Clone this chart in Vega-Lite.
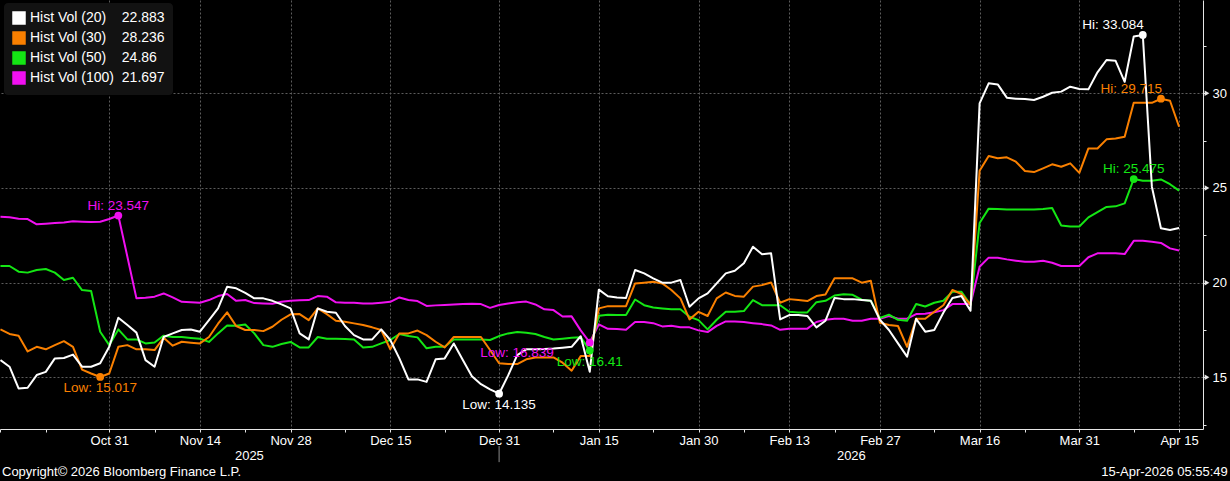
{
  "$schema": "https://vega.github.io/schema/vega-lite/v6.json",
  "width": 1203,
  "height": 429,
  "autosize": {"type": "none"},
  "padding": {"left": 0, "top": 0, "right": 27, "bottom": 52},
  "background": "#000000",
  "config": {
    "font": "Liberation Sans",
    "view": {"stroke": null},
    "axis": {
      "domainColor": "#e6e6e6",
      "tickColor": "#e6e6e6",
      "labelColor": "#ffffff",
      "labelFont": "Liberation Sans",
      "labelFontSize": 13,
      "gridColor": "#5c5c5c",
      "gridDash": [2, 2],
      "gridWidth": 1,
      "title": null
    },
    "legend": {
      "labelFont": "Liberation Sans",
      "labelFontSize": 14,
      "labelColor": "#ffffff",
      "fillColor": "#121212",
      "cornerRadius": 4,
      "padding": 8,
      "rowPadding": 2,
      "symbolType": "square",
      "symbolSize": 144,
      "labelOffset": 4,
      "labelLimit": 400
    }
  },
  "datasets": {
    "vol": [
      {"i":0,"v20":15.91,"v30":17.53,"v50":20.88,"v100":23.48},
      {"i":1,"v20":15.56,"v30":17.29,"v50":20.88,"v100":23.46},
      {"i":2,"v20":14.41,"v30":17.2,"v50":20.58,"v100":23.38},
      {"i":3,"v20":14.45,"v30":16.37,"v50":20.53,"v100":23.36},
      {"i":4,"v20":15.12,"v30":16.61,"v50":20.67,"v100":23.08},
      {"i":5,"v20":15.29,"v30":16.48,"v50":20.72,"v100":23.11},
      {"i":6,"v20":16.0,"v30":16.7,"v50":20.53,"v100":23.15},
      {"i":7,"v20":16.02,"v30":16.91,"v50":20.14,"v100":23.18},
      {"i":8,"v20":16.2,"v30":16.61,"v50":20.26,"v100":23.24},
      {"i":9,"v20":15.56,"v30":15.41,"v50":19.61,"v100":23.22},
      {"i":10,"v20":15.56,"v30":15.2,"v50":19.56,"v100":23.2},
      {"i":11,"v20":15.74,"v30":15.017,"v50":17.41,"v100":23.22},
      {"i":12,"v20":16.61,"v30":15.2,"v50":16.7,"v100":23.36},
      {"i":13,"v20":18.15,"v30":16.61,"v50":17.53,"v100":23.547},
      {"i":14,"v20":17.76,"v30":16.7,"v50":17.0,"v100":21.37},
      {"i":15,"v20":17.36,"v30":16.48,"v50":17.0,"v100":19.17},
      {"i":16,"v20":15.91,"v30":16.48,"v50":16.79,"v100":19.2},
      {"i":17,"v20":15.56,"v30":16.44,"v50":16.84,"v100":19.26},
      {"i":18,"v20":17.13,"v30":17.09,"v50":17.2,"v100":19.43},
      {"i":19,"v20":17.32,"v30":16.67,"v50":17.13,"v100":19.22},
      {"i":20,"v20":17.5,"v30":16.88,"v50":17.13,"v100":18.99},
      {"i":21,"v20":17.53,"v30":16.83,"v50":17.08,"v100":18.97},
      {"i":22,"v20":17.41,"v30":16.79,"v50":17.04,"v100":18.94},
      {"i":23,"v20":18.02,"v30":17.13,"v50":16.87,"v100":19.08},
      {"i":24,"v20":18.64,"v30":17.83,"v50":17.32,"v100":19.29},
      {"i":25,"v20":19.78,"v30":18.43,"v50":17.74,"v100":19.4},
      {"i":26,"v20":19.7,"v30":17.71,"v50":17.72,"v100":19.04},
      {"i":27,"v20":19.46,"v30":17.5,"v50":17.79,"v100":19.08},
      {"i":28,"v20":19.17,"v30":17.5,"v50":17.32,"v100":18.92},
      {"i":29,"v20":19.17,"v30":17.44,"v50":16.7,"v100":18.9},
      {"i":30,"v20":19.04,"v30":17.67,"v50":16.61,"v100":18.89},
      {"i":31,"v20":18.85,"v30":18.04,"v50":16.76,"v100":18.99},
      {"i":32,"v20":18.64,"v30":18.33,"v50":16.87,"v100":19.05},
      {"i":33,"v20":17.32,"v30":18.34,"v50":16.58,"v100":19.07},
      {"i":34,"v20":17.0,"v30":18.02,"v50":16.58,"v100":19.08},
      {"i":35,"v20":18.64,"v30":18.64,"v50":17.13,"v100":19.29},
      {"i":36,"v20":18.46,"v30":18.34,"v50":17.04,"v100":19.26},
      {"i":37,"v20":18.41,"v30":17.99,"v50":17.04,"v100":18.96},
      {"i":38,"v20":17.71,"v30":17.94,"v50":17.02,"v100":18.94},
      {"i":39,"v20":17.23,"v30":17.85,"v50":17.0,"v100":18.94},
      {"i":40,"v20":17.0,"v30":17.76,"v50":16.58,"v100":18.9},
      {"i":41,"v20":17.0,"v30":17.64,"v50":16.61,"v100":18.9},
      {"i":42,"v20":17.53,"v30":17.5,"v50":16.79,"v100":18.94},
      {"i":43,"v20":16.97,"v30":16.48,"v50":16.97,"v100":18.99},
      {"i":44,"v20":16.0,"v30":17.32,"v50":17.29,"v100":19.22},
      {"i":45,"v20":14.89,"v30":17.32,"v50":17.18,"v100":19.08},
      {"i":46,"v20":14.89,"v30":17.47,"v50":17.11,"v100":19.03},
      {"i":47,"v20":14.76,"v30":17.23,"v50":16.53,"v100":18.77},
      {"i":48,"v20":15.95,"v30":16.88,"v50":16.61,"v100":18.8},
      {"i":49,"v20":16.0,"v30":16.58,"v50":16.61,"v100":18.82},
      {"i":50,"v20":16.79,"v30":17.13,"v50":17.0,"v100":18.85},
      {"i":51,"v20":15.91,"v30":17.13,"v50":17.0,"v100":18.87},
      {"i":52,"v20":15.06,"v30":17.13,"v50":17.0,"v100":18.89},
      {"i":53,"v20":14.64,"v30":17.13,"v50":17.0,"v100":18.87},
      {"i":54,"v20":14.36,"v30":16.44,"v50":16.97,"v100":18.67},
      {"i":55,"v20":14.135,"v30":15.74,"v50":17.18,"v100":18.82},
      {"i":56,"v20":15.1,"v30":15.7,"v50":17.32,"v100":18.9},
      {"i":57,"v20":16.17,"v30":15.7,"v50":17.39,"v100":18.97},
      {"i":58,"v20":16.48,"v30":15.95,"v50":17.36,"v100":19.0},
      {"i":59,"v20":16.48,"v30":16.05,"v50":17.29,"v100":18.85},
      {"i":60,"v20":16.5,"v30":16.05,"v50":17.13,"v100":18.59},
      {"i":61,"v20":16.52,"v30":16.05,"v50":17.0,"v100":18.55},
      {"i":62,"v20":16.56,"v30":15.77,"v50":17.04,"v100":18.21},
      {"i":63,"v20":16.61,"v30":15.35,"v50":17.09,"v100":18.22},
      {"i":64,"v20":17.17,"v30":16.12,"v50":17.12,"v100":17.48},
      {"i":65,"v20":15.29,"v30":16.12,"v50":16.41,"v100":16.839},
      {"i":66,"v20":19.63,"v30":18.64,"v50":18.25,"v100":17.8},
      {"i":67,"v20":19.28,"v30":18.76,"v50":18.31,"v100":17.56},
      {"i":68,"v20":19.22,"v30":18.76,"v50":18.29,"v100":17.55},
      {"i":69,"v20":19.19,"v30":18.76,"v50":18.29,"v100":17.51},
      {"i":70,"v20":20.67,"v30":19.96,"v50":19.11,"v100":17.92},
      {"i":71,"v20":20.49,"v30":20.0,"v50":18.81,"v100":17.92},
      {"i":72,"v20":20.23,"v30":20.05,"v50":18.69,"v100":17.86},
      {"i":73,"v20":20.0,"v30":19.96,"v50":18.64,"v100":17.69},
      {"i":74,"v20":20.0,"v30":19.61,"v50":18.6,"v100":17.72},
      {"i":75,"v20":20.14,"v30":19.17,"v50":18.6,"v100":17.64},
      {"i":76,"v20":18.73,"v30":18.06,"v50":18.2,"v100":17.64},
      {"i":77,"v20":19.17,"v30":18.46,"v50":18.02,"v100":17.48},
      {"i":78,"v20":19.43,"v30":18.24,"v50":17.53,"v100":17.39},
      {"i":79,"v20":19.96,"v30":19.17,"v50":18.04,"v100":17.72},
      {"i":80,"v20":20.49,"v30":19.48,"v50":18.46,"v100":17.95},
      {"i":81,"v20":20.63,"v30":19.3,"v50":18.46,"v100":17.95},
      {"i":82,"v20":21.02,"v30":19.26,"v50":18.5,"v100":17.92},
      {"i":83,"v20":21.9,"v30":19.79,"v50":19.08,"v100":17.86},
      {"i":84,"v20":21.5,"v30":19.87,"v50":18.81,"v100":17.81},
      {"i":85,"v20":21.55,"v30":20.01,"v50":18.81,"v100":17.74},
      {"i":86,"v20":18.06,"v30":18.94,"v50":18.81,"v100":17.51},
      {"i":87,"v20":18.29,"v30":19.13,"v50":18.46,"v100":17.57},
      {"i":88,"v20":18.29,"v30":19.08,"v50":18.43,"v100":17.57},
      {"i":89,"v20":18.24,"v30":19.03,"v50":18.43,"v100":17.57},
      {"i":90,"v20":17.64,"v30":19.29,"v50":18.97,"v100":17.92},
      {"i":91,"v20":17.99,"v30":19.38,"v50":19.04,"v100":18.04},
      {"i":92,"v20":19.19,"v30":20.23,"v50":19.32,"v100":18.09},
      {"i":93,"v20":19.13,"v30":20.23,"v50":19.39,"v100":18.09},
      {"i":94,"v20":19.13,"v30":20.23,"v50":19.36,"v100":17.99},
      {"i":95,"v20":19.08,"v30":20.0,"v50":19.1,"v100":17.99},
      {"i":96,"v20":19.04,"v30":20.1,"v50":19.04,"v100":18.09},
      {"i":97,"v20":18.04,"v30":17.88,"v50":18.13,"v100":18.09},
      {"i":98,"v20":17.5,"v30":17.76,"v50":18.31,"v100":18.24},
      {"i":99,"v20":16.79,"v30":17.71,"v50":18.04,"v100":18.09},
      {"i":100,"v20":16.09,"v30":16.61,"v50":17.99,"v100":18.1},
      {"i":101,"v20":18.09,"v30":18.09,"v50":18.87,"v100":18.34},
      {"i":102,"v20":17.41,"v30":18.09,"v50":18.74,"v100":18.36},
      {"i":103,"v20":17.5,"v30":18.46,"v50":18.94,"v100":18.44},
      {"i":104,"v20":18.41,"v30":18.81,"v50":19.04,"v100":18.55},
      {"i":105,"v20":19.19,"v30":19.61,"v50":19.52,"v100":18.87},
      {"i":106,"v20":19.29,"v30":19.4,"v50":19.52,"v100":18.87},
      {"i":107,"v20":18.52,"v30":18.83,"v50":18.83,"v100":18.87},
      {"i":108,"v20":29.47,"v30":25.91,"v50":23.15,"v100":20.84},
      {"i":109,"v20":30.53,"v30":26.69,"v50":23.91,"v100":21.32},
      {"i":110,"v20":30.47,"v30":26.57,"v50":23.89,"v100":21.32},
      {"i":111,"v20":29.77,"v30":26.62,"v50":23.86,"v100":21.23},
      {"i":112,"v20":29.72,"v30":26.39,"v50":23.86,"v100":21.16},
      {"i":113,"v20":29.7,"v30":25.9,"v50":23.86,"v100":21.1},
      {"i":114,"v20":29.65,"v30":25.84,"v50":23.86,"v100":21.1},
      {"i":115,"v20":29.82,"v30":26.04,"v50":23.89,"v100":21.16},
      {"i":116,"v20":30.03,"v30":26.25,"v50":23.94,"v100":21.05},
      {"i":117,"v20":30.09,"v30":26.12,"v50":23.02,"v100":20.88},
      {"i":118,"v20":30.35,"v30":26.3,"v50":22.97,"v100":20.88},
      {"i":119,"v20":30.23,"v30":25.8,"v50":22.97,"v100":20.88},
      {"i":120,"v20":30.21,"v30":27.09,"v50":23.45,"v100":21.34},
      {"i":121,"v20":31.11,"v30":27.09,"v50":23.73,"v100":21.55},
      {"i":122,"v20":31.76,"v30":27.57,"v50":24.0,"v100":21.55},
      {"i":123,"v20":31.72,"v30":27.62,"v50":24.03,"v100":21.55},
      {"i":124,"v20":30.61,"v30":27.71,"v50":24.19,"v100":21.51},
      {"i":125,"v20":33.0,"v30":29.5,"v50":25.475,"v100":22.21},
      {"i":126,"v20":33.084,"v30":29.5,"v50":25.38,"v100":22.21},
      {"i":127,"v20":25.07,"v30":29.5,"v50":25.38,"v100":22.16},
      {"i":128,"v20":22.87,"v30":29.715,"v50":25.45,"v100":22.1},
      {"i":129,"v20":22.78,"v30":29.61,"v50":25.2,"v100":21.81},
      {"i":130,"v20":22.883,"v30":28.236,"v50":24.86,"v100":21.697}
    ],
    "hl": [
      {"key":"v20","i":126,"v":33.084,"label":"Hi: 33.084"},
      {"key":"v30","i":128,"v":29.715,"label":"Hi: 29.715"},
      {"key":"v50","i":125,"v":25.475,"label":"Hi: 25.475"},
      {"key":"v100","i":13,"v":23.547,"label":"Hi: 23.547"},
      {"key":"v20","i":55,"v":14.135,"label":"Low: 14.135"},
      {"key":"v30","i":11,"v":15.017,"label":"Low: 15.017"},
      {"key":"v50","i":65,"v":16.41,"label":"Low: 16.41"},
      {"key":"v100","i":65,"v":16.839,"label":"Low: 16.839"}
    ]
  },
  "layer": [
    {
      "data": {"name": "vol"},
      "transform": [{"fold": ["v100", "v50", "v30", "v20"], "as": ["key", "value"]}],
      "mark": {"type": "line", "strokeWidth": 2, "strokeJoin": "round"},
      "encoding": {
        "x": {
          "field": "i", "type": "quantitative",
          "scale": {"domain": [-0.05, 132.64], "nice": false, "zero": false},
          "axis": {
            "title": null,
            "values": [0, 5, 12, 17, 22, 27, 27.4, 32, 38, 43, 49, 55, 61, 66, 72, 77, 82, 87, 92, 93.8, 97, 103, 108, 113, 119, 125, 130],
            "labelExpr": "indexof([12,22,32,43,55,66,77,87,97,108,119,130], datum.value) >= 0 ? ['Oct 31','Nov 14','Nov 28','Dec 15','Dec 31','Jan 15','Jan 30','Feb 13','Feb 27','Mar 16','Mar 31','Apr 15'][indexof([12,22,32,43,55,66,77,87,97,108,119,130], datum.value)] : (datum.value == 27.4 ? ['', '2025'] : (datum.value == 93.8 ? ['', '2026'] : ''))",
            "labelOverlap": false,
            "labelFlush": false,
            "labelBaseline": "top",
            "labelLineHeight": 15,
            "labelPadding": 2,
            "tickSize": 3,
            "grid": true,
            "gridOpacity": {"condition": {"test": "indexof([12,22,32,43,55,66,77,87,97,108,119,130], datum.value) >= 0", "value": 1}, "value": 0},
            "tickOpacity": {"condition": {"test": "datum.value == 27.4 || datum.value == 93.8", "value": 0}, "value": 1}
          }
        },
        "y": {
          "field": "value", "type": "quantitative",
          "scale": {"domain": [12.27, 34.93], "nice": false, "zero": false},
          "axis": {
            "title": null,
            "orient": "right",
            "values": [12.5, 15, 17.5, 20, 22.5, 25, 27.5, 30, 32.5],
            "labelExpr": "datum.value % 5 == 0 ? datum.label : ''",
            "labelOverlap": false,
            "tickSize": 3,
            "labelPadding": 6,
            "grid": true,
            "gridOpacity": {"condition": {"test": "datum.value % 5 == 0", "value": 1}, "value": 0}
          }
        },
        "color": {
          "field": "key", "type": "nominal",
          "scale": {"domain": ["v20", "v30", "v50", "v100"], "range": ["#ffffff", "#fa8000", "#14e614", "#f010f0"]},
          "legend": {
            "title": null,
            "orient": "none",
            "legendX": 4,
            "legendY": 3,
            "labelExpr": "datum.label == 'v20' ? 'Hist Vol (20)\u00a0\u00a0\u00a0\u00a022.883' : (datum.label == 'v30' ? 'Hist Vol (30)\u00a0\u00a0\u00a0\u00a028.236' : (datum.label == 'v50' ? 'Hist Vol (50)\u00a0\u00a0\u00a0\u00a024.86' : 'Hist Vol (100)\u00a0\u00a021.697'))",
            "encode": {
              "symbols": {
                "update": {
                  "fill": {"scale": "color", "field": "value"},
                  "stroke": {"value": "transparent"},
                  "shape": {"value": "square"},
                  "size": {"value": 144},
                  "opacity": {"value": 1}
                }
              }
            }
          }
        }
      }
    },
    {
      "data": {"name": "hl"},
      "mark": {"type": "point", "filled": true, "size": 60, "opacity": 1},
      "encoding": {
        "x": {"field": "i", "type": "quantitative"},
        "y": {"field": "v", "type": "quantitative"},
        "color": {"field": "key", "type": "nominal", "legend": null}
      }
    },
    {
      "data": {"name": "hl"},
      "transform": [{"filter": "datum.label == 'Hi: 25.475' || datum.label == 'Hi: 23.547'"}],
      "mark": {"type": "text", "align": "center", "baseline": "middle", "dy": -10, "fontSize": 13.5, "font": "Liberation Sans"},
      "encoding": {
        "x": {"field": "i", "type": "quantitative"},
        "y": {"field": "v", "type": "quantitative"},
        "text": {"field": "label"},
        "color": {"field": "key", "type": "nominal", "legend": null}
      }
    },
    {
      "data": {"name": "hl"},
      "transform": [{"filter": "datum.label == 'Hi: 33.084' || datum.label == 'Hi: 29.715'"}],
      "mark": {"type": "text", "align": "right", "baseline": "middle", "dy": -10, "dx": 1, "fontSize": 13.5, "font": "Liberation Sans"},
      "encoding": {
        "x": {"field": "i", "type": "quantitative"},
        "y": {"field": "v", "type": "quantitative"},
        "text": {"field": "label"},
        "color": {"field": "key", "type": "nominal", "legend": null}
      }
    },
    {
      "data": {"name": "hl"},
      "transform": [{"filter": "datum.label == 'Low: 14.135' || datum.label == 'Low: 15.017' || datum.label == 'Low: 16.41'"}],
      "mark": {"type": "text", "align": "center", "baseline": "middle", "dy": 11, "fontSize": 13.5, "font": "Liberation Sans"},
      "encoding": {
        "x": {"field": "i", "type": "quantitative"},
        "y": {"field": "v", "type": "quantitative"},
        "text": {"field": "label"},
        "color": {"field": "key", "type": "nominal", "legend": null}
      }
    },
    {
      "data": {"name": "hl"},
      "transform": [{"filter": "datum.label == 'Low: 16.839'"}],
      "mark": {"type": "text", "align": "right", "baseline": "middle", "dy": 11, "dx": -36, "fontSize": 13.5, "font": "Liberation Sans"},
      "encoding": {
        "x": {"field": "i", "type": "quantitative"},
        "y": {"field": "v", "type": "quantitative"},
        "text": {"field": "label"},
        "color": {"field": "key", "type": "nominal", "legend": null}
      }
    },
    {
      "data": {"values": [{"t": 15}, {"t": 20}, {"t": 25}, {"t": 30}]},
      "mark": {"type": "point", "shape": "triangle-right", "filled": true, "size": 30, "color": "#e6e6e6", "opacity": 1, "xOffset": 4},
      "encoding": {
        "x": {"datum": 132.64},
        "y": {"field": "t", "type": "quantitative"}
      }
    },
    {
      "data": {"values": [{"d": 55}]},
      "mark": {"type": "rule", "color": "#8c8c8c", "strokeWidth": 1},
      "encoding": {
        "x": {"field": "d", "type": "quantitative"},
        "y": {"datum": 11.37},
        "y2": {"datum": 10.52}
      }
    },
    {
      "data": {"values": [{"note": "Copyright\u00a9 2026 Bloomberg Finance L.P."}]},
      "mark": {"type": "text", "align": "left", "baseline": "middle", "fontSize": 13, "font": "Liberation Sans", "color": "#ffffff"},
      "encoding": {
        "x": {"datum": 0.17},
        "y": {"datum": 10.0},
        "text": {"field": "note"}
      }
    },
    {
      "data": {"values": [{"note": "15-Apr-2026 05:55:49"}]},
      "mark": {"type": "text", "align": "right", "baseline": "middle", "fontSize": 13, "font": "Liberation Sans", "color": "#ffffff"},
      "encoding": {
        "x": {"datum": 135.37},
        "y": {"datum": 10.0},
        "text": {"field": "note"}
      }
    }
  ]
}
